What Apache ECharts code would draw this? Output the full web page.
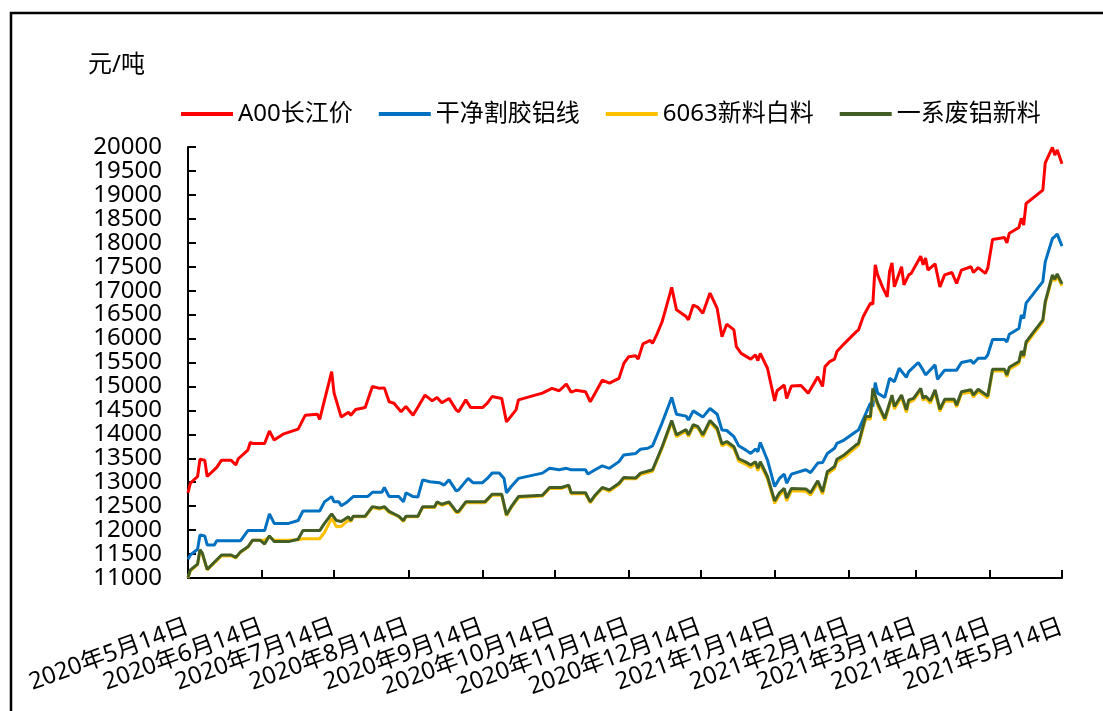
<!DOCTYPE html>
<html><head><meta charset="utf-8">
<script src="https://cdn.jsdelivr.net/npm/echarts@6/dist/echarts.min.js"></script>
<style>html,body{margin:0;padding:0;background:#fff}#chart{width:1103px;height:711px}</style>
</head><body><div id="chart"></div>
<script>
const seriesNames = ['A00长江价', '干净割胶铝线', '6063新料白料', '一系废铝新料'];
const unitLabel = '元/吨';
const tickDates = ['2020-05-14','2020-06-14','2020-07-14','2020-08-14','2020-09-14','2020-10-14','2020-11-14','2020-12-14','2021-01-14','2021-02-14','2021-03-14','2021-04-14','2021-05-14'];

const a00Dates = ['2020-05-14','2020-05-15','2020-05-18','2020-05-19','2020-05-21','2020-05-22','2020-05-26','2020-05-28','2020-06-01','2020-06-03','2020-06-04','2020-06-08','2020-06-09','2020-06-10','2020-06-15','2020-06-17','2020-06-19','2020-06-23','2020-06-29','2020-07-02','2020-07-07','2020-07-08','2020-07-13','2020-07-14','2020-07-17','2020-07-20','2020-07-21','2020-07-23','2020-07-27','2020-07-30','2020-08-02','2020-08-04','2020-08-06','2020-08-08','2020-08-11','2020-08-13','2020-08-16','2020-08-21','2020-08-24','2020-08-26','2020-08-28','2020-08-31','2020-09-03','2020-09-04','2020-09-07','2020-09-09','2020-09-14','2020-09-16','2020-09-18','2020-09-22','2020-09-24','2020-09-28','2020-09-29','2020-10-09','2020-10-13','2020-10-16','2020-10-19','2020-10-21','2020-10-23','2020-10-27','2020-10-29','2020-10-31','2020-11-03','2020-11-06','2020-11-10','2020-11-12','2020-11-14','2020-11-17','2020-11-18','2020-11-20','2020-11-23','2020-11-24','2020-11-26','2020-11-28','2020-12-02','2020-12-04','2020-12-08','2020-12-09','2020-12-11','2020-12-13','2020-12-15','2020-12-18','2020-12-21','2020-12-23','2020-12-25','2020-12-28','2020-12-29','2020-12-31','2021-01-04','2021-01-06','2021-01-07','2021-01-08','2021-01-11','2021-01-14','2021-01-15','2021-01-18','2021-01-19','2021-01-21','2021-01-25','2021-01-28','2021-02-01','2021-02-03','2021-02-04','2021-02-06','2021-02-08','2021-02-09','2021-02-12','2021-02-17','2021-02-18','2021-02-20','2021-02-23','2021-02-24','2021-02-25','2021-02-26','2021-02-28','2021-03-02','2021-03-03','2021-03-04','2021-03-05','2021-03-08','2021-03-09','2021-03-11','2021-03-12','2021-03-16','2021-03-17','2021-03-18','2021-03-19','2021-03-22','2021-03-24','2021-03-26','2021-03-29','2021-03-31','2021-04-02','2021-04-06','2021-04-07','2021-04-09','2021-04-12','2021-04-13','2021-04-15','2021-04-20','2021-04-21','2021-04-22','2021-04-26','2021-04-27','2021-04-28','2021-04-29','2021-05-06','2021-05-07','2021-05-10','2021-05-11','2021-05-12','2021-05-14'];
const a00Prices = [12780,12980,13120,13480,13460,13120,13310,13460,13460,13360,13490,13670,13830,13810,13810,14070,13880,14010,14110,14400,14420,14310,15310,14860,14360,14460,14400,14520,14560,15000,14960,14970,14680,14650,14470,14580,14400,14820,14700,14770,14660,14750,14510,14470,14720,14560,14560,14650,14790,14750,14260,14510,14720,14860,14960,14910,15050,14880,14920,14890,14680,14860,15130,15070,15170,15480,15620,15640,15570,15890,15960,15900,16110,16350,17070,16600,16460,16390,16700,16650,16530,16950,16630,16040,16300,16180,15830,15690,15570,15660,15540,15690,15380,14700,14910,15030,14750,15010,15020,14860,15200,15000,15410,15520,15570,15730,15890,16140,16180,16460,16740,16720,17540,17330,17080,16870,17400,17580,17080,17500,17120,17330,17360,17720,17540,17680,17430,17560,17080,17330,17380,17150,17430,17500,17380,17480,17360,17470,18070,18110,18000,18200,18320,18510,18370,18820,19100,19670,19990,19830,19940,19650];

const wireDates = ['2020-05-14','2020-05-15','2020-05-18','2020-05-19','2020-05-21','2020-05-22','2020-05-25','2020-05-26','2020-06-05','2020-06-08','2020-06-15','2020-06-17','2020-06-19','2020-06-25','2020-06-29','2020-07-01','2020-07-08','2020-07-10','2020-07-13','2020-07-14','2020-07-16','2020-07-17','2020-07-19','2020-07-22','2020-07-28','2020-07-30','2020-08-03','2020-08-04','2020-08-06','2020-08-10','2020-08-12','2020-08-13','2020-08-16','2020-08-18','2020-08-20','2020-08-23','2020-08-27','2020-08-29','2020-08-31','2020-09-03','2020-09-04','2020-09-08','2020-09-10','2020-09-14','2020-09-16','2020-09-18','2020-09-21','2020-09-23','2020-09-24','2020-09-26','2020-09-29','2020-10-09','2020-10-12','2020-10-16','2020-10-19','2020-10-21','2020-10-27','2020-10-28','2020-10-31','2020-11-03','2020-11-06','2020-11-10','2020-11-12','2020-11-17','2020-11-19','2020-11-22','2020-11-24','2020-11-25','2020-11-28','2020-12-02','2020-12-04','2020-12-08','2020-12-09','2020-12-11','2020-12-15','2020-12-18','2020-12-21','2020-12-23','2020-12-25','2020-12-28','2020-12-30','2021-01-02','2021-01-04','2021-01-06','2021-01-07','2021-01-08','2021-01-11','2021-01-14','2021-01-16','2021-01-18','2021-01-19','2021-01-21','2021-01-27','2021-01-29','2021-02-01','2021-02-03','2021-02-05','2021-02-08','2021-02-09','2021-02-12','2021-02-17','2021-02-18','2021-02-23','2021-02-24','2021-02-25','2021-02-26','2021-03-01','2021-03-03','2021-03-05','2021-03-07','2021-03-10','2021-03-11','2021-03-15','2021-03-17','2021-03-18','2021-03-22','2021-03-23','2021-03-26','2021-03-31','2021-04-02','2021-04-06','2021-04-07','2021-04-09','2021-04-12','2021-04-13','2021-04-15','2021-04-20','2021-04-21','2021-04-22','2021-04-26','2021-04-27','2021-04-28','2021-04-29','2021-05-06','2021-05-07','2021-05-10','2021-05-11','2021-05-12','2021-05-14'];
const wirePrices = [11390,11480,11600,11900,11880,11690,11690,11780,11780,11990,11990,12340,12140,12140,12200,12400,12400,12590,12700,12590,12590,12510,12570,12700,12700,12790,12790,12890,12700,12700,12590,12780,12700,12690,13050,13010,12990,12940,13050,12820,12840,13080,12990,12990,13080,13190,13190,13080,12780,12910,13080,13190,13290,13260,13290,13260,13260,13170,13260,13340,13290,13430,13570,13600,13690,13710,13760,13880,14240,14770,14420,14380,14300,14490,14360,14540,14420,14090,14080,13950,13760,13670,13600,13690,13640,13830,13460,12910,13080,13170,12980,13170,13260,13200,13400,13410,13600,13710,13810,13880,14060,14090,14650,14580,15080,14860,14770,15170,15100,15380,15190,15310,15500,15340,15240,15450,15150,15340,15340,15500,15540,15480,15590,15590,15660,15980,15980,15930,16090,16210,16490,16420,16740,17190,17600,18090,18130,18180,17930];

const scrapDates = ['2020-05-14','2020-05-15','2020-05-18','2020-05-19','2020-05-20','2020-05-22','2020-05-26','2020-05-28','2020-06-01','2020-06-03','2020-06-05','2020-06-08','2020-06-10','2020-06-13','2020-06-15','2020-06-17','2020-06-19','2020-06-25','2020-06-29','2020-07-01','2020-07-08','2020-07-10','2020-07-13','2020-07-15','2020-07-17','2020-07-20','2020-07-21','2020-07-22','2020-07-27','2020-07-30','2020-08-02','2020-08-04','2020-08-06','2020-08-10','2020-08-12','2020-08-13','2020-08-18','2020-08-20','2020-08-25','2020-08-26','2020-08-28','2020-08-31','2020-09-03','2020-09-04','2020-09-07','2020-09-15','2020-09-18','2020-09-22','2020-09-24','2020-09-26','2020-09-29','2020-10-09','2020-10-12','2020-10-17','2020-10-20','2020-10-21','2020-10-27','2020-10-29','2020-10-31','2020-11-03','2020-11-06','2020-11-10','2020-11-12','2020-11-17','2020-11-19','2020-11-24','2020-11-25','2020-11-28','2020-12-02','2020-12-04','2020-12-08','2020-12-09','2020-12-11','2020-12-13','2020-12-15','2020-12-18','2020-12-21','2020-12-23','2020-12-25','2020-12-28','2020-12-30','2021-01-02','2021-01-04','2021-01-06','2021-01-07','2021-01-08','2021-01-11','2021-01-14','2021-01-16','2021-01-18','2021-01-19','2021-01-21','2021-01-27','2021-01-29','2021-02-01','2021-02-03','2021-02-05','2021-02-08','2021-02-09','2021-02-12','2021-02-17','2021-02-18','2021-02-21','2021-02-23','2021-02-24','2021-02-26','2021-03-01','2021-03-04','2021-03-05','2021-03-08','2021-03-10','2021-03-11','2021-03-13','2021-03-16','2021-03-17','2021-03-18','2021-03-20','2021-03-22','2021-03-24','2021-03-26','2021-03-30','2021-03-31','2021-04-02','2021-04-06','2021-04-07','2021-04-09','2021-04-13','2021-04-15','2021-04-20','2021-04-21','2021-04-22','2021-04-26','2021-04-27','2021-04-28','2021-04-29','2021-05-06','2021-05-07','2021-05-10','2021-05-11','2021-05-12','2021-05-14'];
const scrapPrices = [11010,11170,11290,11590,11520,11180,11380,11480,11480,11430,11550,11650,11790,11790,11710,11880,11760,11760,11810,11990,11990,12140,12340,12200,12180,12280,12200,12290,12290,12490,12460,12490,12390,12290,12200,12290,12290,12490,12490,12590,12540,12590,12390,12390,12590,12590,12750,12750,12320,12490,12700,12730,12890,12890,12940,12780,12780,12590,12730,12890,12840,12980,13100,13090,13190,13260,13380,13740,14290,13990,14100,13990,14200,14160,13990,14290,14130,13800,13850,13740,13490,13420,13360,13430,13290,13430,13120,12610,12780,12870,12670,12870,12860,12780,13030,12800,13220,13330,13480,13570,13780,13810,14370,14370,14960,14650,14330,14820,14580,14820,14510,14720,14750,14960,14750,14800,14700,14930,14520,14730,14730,14610,14890,14930,14820,14940,14800,15360,15360,15240,15400,15520,15740,15640,15930,16390,16770,17330,17240,17350,17140];
const whitePrices = [11000,11150,11280,11570,11500,11170,11360,11460,11460,11420,11540,11640,11790,11790,11790,11860,11790,11790,11800,11820,11820,11950,12250,12070,12080,12210,12180,12280,12280,12470,12440,12470,12370,12280,12180,12280,12280,12470,12470,12570,12520,12570,12370,12370,12570,12570,12730,12730,12300,12470,12680,12710,12870,12870,12920,12760,12760,12570,12710,12870,12810,12950,13080,13070,13160,13230,13350,13710,14250,13950,14070,13950,14160,14130,13950,14250,14090,13760,13810,13700,13440,13370,13310,13380,13240,13380,13070,12560,12730,12820,12610,12820,12810,12730,12980,12750,13170,13280,13430,13520,13730,13770,14320,14320,14920,14600,14290,14780,14530,14780,14460,14670,14710,14920,14710,14760,14650,14880,14480,14690,14690,14570,14850,14880,14780,14900,14760,15320,15320,15200,15360,15480,15700,15600,15890,16350,16730,17290,17200,17300,17100];

const FONT = "'Noto Sans','Noto Sans CJK SC',sans-serif";
const toTs = s => { const p = s.split('-').map(Number); return Date.UTC(p[0], p[1] - 1, p[2]); };
const zip = (d, v) => d.map((x, i) => [toTs(x), v[i]]);
const tickTs = tickDates.map(toTs);
const fmtDate = v => { const d = new Date(v); return d.getUTCFullYear() + '年' + (d.getUTCMonth() + 1) + '月' + d.getUTCDate() + '日'; };

const chart = echarts.init(document.getElementById('chart'), null, {renderer: 'canvas'});
const lineSeries = (name, data, color) => ({
  name, type: 'line', data, symbol: 'none', showSymbol: false,
  lineStyle: {color, width: 3}, itemStyle: {color}, animation: false
});
chart.setOption({
  backgroundColor: '#fff',
  animation: false,
  graphic: [
    {type: 'rect', shape: {x: 11, y: 13, width: 1200, height: 800}, style: {fill: 'none', stroke: '#000', lineWidth: 2.5}, silent: true},
    {type: 'text', left: 88, top: 53, style: {text: unitLabel, font: '24px ' + FONT, fill: '#000'}}
  ],
  legend: {
    left: 176, top: 97, icon: 'rect', itemWidth: 52, itemHeight: 4, itemGap: 26,
    textStyle: {fontFamily: FONT, fontSize: 24, color: '#000'},
    data: seriesNames
  },
  grid: {left: 188, right: 41, top: 147, bottom: 133},
  xAxis: {
    type: 'value',
    min: tickTs[0], max: tickTs[tickTs.length - 1],
    axisLine: {lineStyle: {color: '#000', width: 2}},
    axisTick: {inside: true, length: 8, customValues: tickTs, lineStyle: {color: '#000', width: 2}},
    axisLabel: {
      customValues: tickTs, rotate: 20, margin: 48, color: '#000',
      fontFamily: FONT, fontSize: 24, formatter: fmtDate
    },
    splitLine: {show: false}
  },
  yAxis: {
    type: 'value', min: 11000, max: 20000, interval: 500,
    axisLine: {show: true, lineStyle: {color: '#000', width: 2}},
    axisTick: {show: true, inside: true, length: 8, lineStyle: {color: '#000', width: 2}},
    axisLabel: {margin: 26, color: '#000', fontFamily: FONT, fontSize: 24, formatter: v => String(v)},
    splitLine: {show: false}
  },
  series: [
    lineSeries(seriesNames[0], zip(a00Dates, a00Prices), '#FF0000'),
    lineSeries(seriesNames[1], zip(wireDates, wirePrices), '#0070C0'),
    lineSeries(seriesNames[2], zip(scrapDates, whitePrices), '#FFC000'),
    lineSeries(seriesNames[3], zip(scrapDates, scrapPrices), '#435E25')
  ]
});
</script></body></html>
